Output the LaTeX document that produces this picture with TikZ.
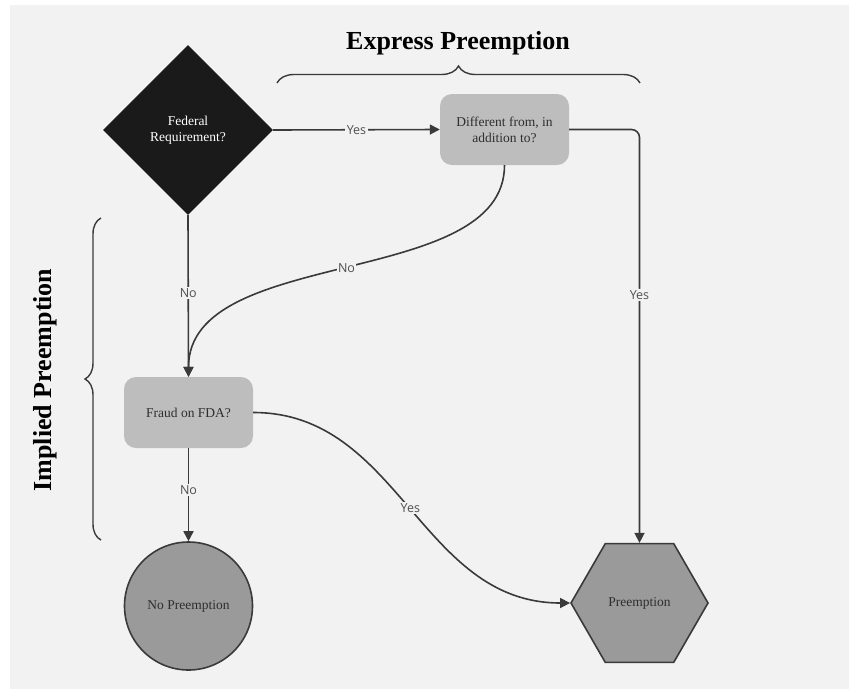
\documentclass[tikz,border=0pt]{standalone}
\usepackage{fontspec}
\setmainfont{Liberation Serif}
\newfontfamily\lblfont{Open Sans}
\usetikzlibrary{shapes.geometric,arrows.meta,decorations.pathreplacing}
\definecolor{pagebg}{HTML}{F2F2F2}
\definecolor{linec}{HTML}{3A3A3A}
\definecolor{boxfill}{HTML}{BDBDBD}
\definecolor{endfill}{HTML}{9A9A9A}
\definecolor{diafill}{HTML}{1A1A1A}
\definecolor{lbltext}{HTML}{505050}
\definecolor{nodetext}{HTML}{2E2E2E}
\tikzset{
  qbox/.style={rectangle, rounded corners=12pt, fill=boxfill, minimum width=129pt, minimum height=71pt, align=center, text=nodetext, font=\fontsize{13.5}{16}\selectfont, inner sep=0pt},
  endnode/.style={draw=linec, line width=1.6pt, fill=endfill, text=nodetext, font=\fontsize{13.5}{16}\selectfont, inner sep=0pt},
  conn/.style={draw=linec, line width=1.6pt, -{Triangle[length=10pt,width=10pt]}},
  lbl/.style={fill=pagebg, text=lbltext, inner sep=1.5pt, font=\lblfont\fontsize{12.5}{14}\selectfont},
  bracec/.style={draw=linec, line width=1.4pt, decorate},
  title/.style={text=black, font=\bfseries\fontsize{26}{30}\selectfont}
}
\begin{document}
\begin{tikzpicture}[x=1pt,y=-1pt]
\useasboundingbox (0,0) rectangle (849,689);
\fill[white] (0,0) rectangle (849,689);
\fill[pagebg] (10,5) rectangle (849,689);

\node[diamond, fill=diafill, minimum width=170pt, minimum height=170pt, inner sep=0pt, align=center, text=white, font=\fontsize{13.5}{16}\selectfont] (fed) at (188,130) {Federal\\Requirement?};
\node[qbox] (diff) at (504.5,129.5) {Different from, in\\addition to?};
\node[qbox] (fraud) at (188.5,412.5) {Fraud on FDA?};
\node[endnode, circle, minimum size=128pt] (nopre) at (188.5,606) {No Preemption};
\node[endnode, regular polygon, regular polygon sides=6, minimum size=137pt] (pre) at (639.5,603) {Preemption};

\draw[conn] (fed.east) -- node[lbl] {Yes} (diff.west);
\draw[conn, rounded corners=8pt] (diff.east) -| node[lbl, pos=0.70] {Yes} (pre.north);
\draw[conn] (diff.south) .. controls (504.5,290) and (188.5,245) .. node[lbl] {No} (fraud.north);
\draw[conn] (fed.south) -- node[lbl, pos=0.48] {No} (fraud.north);
\draw[conn] (fraud.south) -- node[lbl, pos=0.45] {No} (nopre.north);
\draw[conn] (fraud.east) .. controls (400,412.5) and (420,603) .. node[lbl] {Yes} (pre.west);

\coordinate (tb1) at (277,83);
\coordinate (tb2) at (640,83);
\draw[bracec, decoration={brace, amplitude=17pt}] (tb1) -- (tb2);
\node[title] (express) at (458,43) {Express Preemption};

\coordinate (lb1) at (101,540);
\coordinate (lb2) at (101,218);
\draw[bracec, decoration={brace, amplitude=16pt}] (lb1) -- (lb2);
\node[title, rotate=90] (implied) at (45,380) {Implied Preemption};
\end{tikzpicture}
\end{document}
